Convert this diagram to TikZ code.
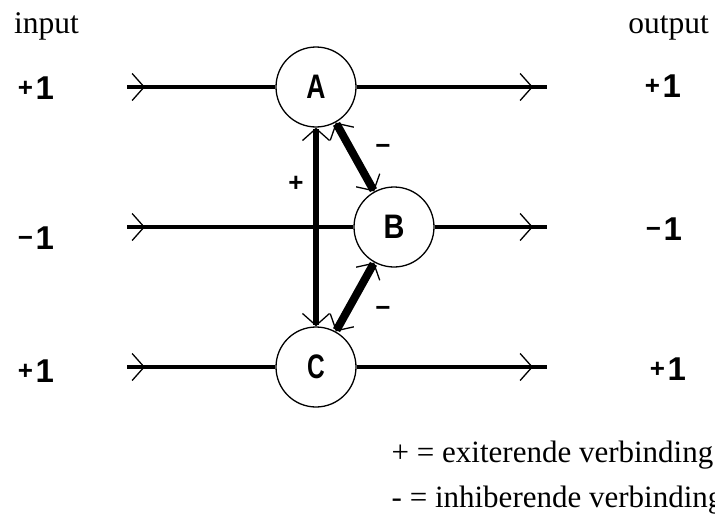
\documentclass[tikz,border=0pt]{standalone}
\usepackage{fontspec}
\usepackage{graphicx}
\setmainfont{Liberation Serif}
\newfontfamily\labelfont{Liberation Sans}
\usetikzlibrary{arrows.meta}

% sign followed by a large digit one, e.g. +1 or -1
\newcommand\sgnone[1]{\raisebox{2.6pt}{\fontsize{26}{26}\selectfont #1}\kern2.5pt{\fontsize{33}{33}\selectfont 1}}

\tikzset{
  chev/.tip={Straight Barb[length=12pt,width=27pt,line width=1.3pt]},
  neuron/.style={circle,draw,line width=1.3pt,minimum size=80pt,inner sep=0pt,
    font=\labelfont\bfseries\fontsize{34}{34}\selectfont},
  wire/.style={line width=4.5pt},
  vlink/.style={line width=6pt,arrows={chev-chev}},
  dlink/.style={line width=8pt,arrows={chev-chev}},
  iolabel/.style={inner sep=0pt,font=\labelfont\bfseries},
  signlabel/.style={inner sep=0pt,font=\labelfont\bfseries\fontsize{26}{26}\selectfont},
  headtext/.style={inner sep=0pt,font=\fontsize{31.5}{36}\selectfont},
  legendtext/.style={inner sep=0pt,font=\fontsize{31}{36}\selectfont},
}

\begin{document}
\begin{tikzpicture}[x=1pt,y=-1pt]
\useasboundingbox (0,0) rectangle (715,522);

% neurons
\node[neuron] (A) at (316,87)  {\scalebox{0.78}[1]{A}};
\node[neuron] (B) at (394,227) {\scalebox{0.85}[1]{B}};
\node[neuron] (C) at (316,367) {\scalebox{0.72}[1]{C}};

% wire ends and arrow marks
\coordinate (in1) at (127,87);  \coordinate (it1) at (145,87);
\coordinate (in2) at (127,227); \coordinate (it2) at (145,227);
\coordinate (in3) at (127,367); \coordinate (it3) at (145,367);
\coordinate (out1) at (547,87);  \coordinate (ot1) at (533,87);
\coordinate (out2) at (547,227); \coordinate (ot2) at (533,227);
\coordinate (out3) at (547,367); \coordinate (ot3) at (533,367);

% input wires
\draw[wire] (in1) -- (A); \draw[wire,-chev] (in1) -- (it1);
\draw[wire] (in2) -- (B); \draw[wire,-chev] (in2) -- (it2);
\draw[wire] (in3) -- (C); \draw[wire,-chev] (in3) -- (it3);

% output wires
\draw[wire] (A) -- (out1); \draw[wire,-chev] (A) -- (ot1);
\draw[wire] (B) -- (out2); \draw[wire,-chev] (B) -- (ot2);
\draw[wire] (C) -- (out3); \draw[wire,-chev] (C) -- (ot3);

% lateral connections
\draw[vlink] (A) -- (C);
\draw[dlink] (A) -- (B);
\draw[dlink] (C) -- (B);

% connection signs
\node[signlabel] (sAC) at (296,184) {+};
\node[signlabel] (sAB) at (383,149) {−};
\node[signlabel] (sBC) at (383,311) {−};

% input and output values
\node[iolabel] (li1) at (36,88)  {\sgnone{+}};
\node[iolabel] (li2) at (36,238) {\sgnone{−}};
\node[iolabel] (li3) at (36,371) {\sgnone{+}};
\node[iolabel] (lo1) at (663,86)  {\sgnone{+}};
\node[iolabel] (lo2) at (664,229) {\sgnone{−}};
\node[iolabel] (lo3) at (668,369) {\sgnone{+}};

% headings and legend
\node[headtext,anchor=base west] (tin)  at (14,33)  {input};
\node[headtext,anchor=base east] (tout) at (709,33) {output};
\node[legendtext,anchor=base west] (k1) at (391.5,462) {+ = exiterende verbinding};
\node[legendtext,anchor=base west] (k2) at (391.5,507) {- = inhiberende verbinding};
\end{tikzpicture}
\end{document}
